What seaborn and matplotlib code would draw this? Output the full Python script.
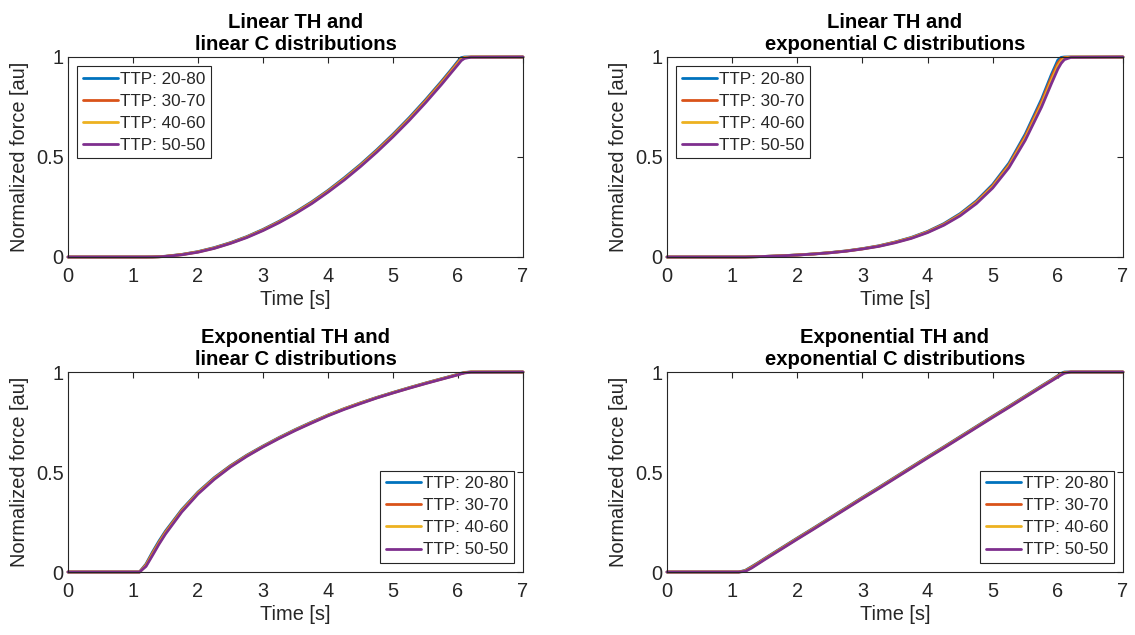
import matplotlib
matplotlib.use("Agg")
import matplotlib.pyplot as plt
import pandas as pd
import seaborn as sns

# Time samples shared by every force trace [s]
TIME = [0.0, 1.0, 1.1, 1.2, 1.3, 1.4, 1.5, 1.75, 2.0, 2.25, 2.5, 2.75, 3.0, 3.25, 3.5,
        3.75, 4.0, 4.25, 4.5, 4.75, 5.0, 5.25, 5.5, 5.75, 5.9, 6.0, 6.05, 6.1, 6.2, 7.0]

SERIES = ["TTP: 20-80", "TTP: 30-70", "TTP: 40-60", "TTP: 50-50"]
COLORS = ["#0072BD", "#D95319", "#EDB120", "#7E2F8E"]

TITLES = [
    "Linear TH and\nlinear C distributions",
    "Linear TH and\nexponential C distributions",
    "Exponential TH and\nlinear C distributions",
    "Exponential TH and\nexponential C distributions",
]
LEGEND_LOC = ["upper left", "upper left", "lower right", "lower right"]

X_TICKS = [0, 1, 2, 3, 4, 5, 6, 7]
Y_TICKS = [0, 0.5, 1]
Y_TICK_LABELS = ["0", "0.5", "1"]

# Linear TH, linear C
lin_lin_2080 = [0, 0, 0, 0, 0.0004, 0.0017, 0.0038, 0.013, 0.027, 0.047, 0.072, 0.102, 0.138, 0.179, 0.225,
                0.276, 0.333, 0.396, 0.463, 0.536, 0.614, 0.697, 0.786, 0.880, 0.939, 0.980, 0.997, 1.0, 1.0, 1.0]
lin_lin_3070 = [0, 0, 0, 0, 0.0003, 0.0014, 0.0035, 0.0123, 0.026, 0.0455, 0.0705, 0.100, 0.136, 0.1765, 0.2225,
                0.273, 0.330, 0.392, 0.459, 0.532, 0.610, 0.692, 0.781, 0.875, 0.934, 0.974, 0.992, 0.998, 1.0, 1.0]
lin_lin_4060 = [0, 0, 0, 0, 0.0003, 0.0012, 0.0031, 0.0117, 0.025, 0.044, 0.069, 0.099, 0.134, 0.174, 0.220,
                0.270, 0.327, 0.389, 0.456, 0.528, 0.605, 0.688, 0.776, 0.869, 0.928, 0.968, 0.987, 0.996, 1.0, 1.0]
lin_lin_5050 = [0, 0, 0, 0, 0.0002, 0.001, 0.0028, 0.011, 0.024, 0.043, 0.068, 0.097, 0.132, 0.172, 0.217,
                0.267, 0.324, 0.385, 0.452, 0.524, 0.601, 0.683, 0.771, 0.864, 0.923, 0.962, 0.982, 0.993, 0.999, 1.0]

# Linear TH, exponential C
lin_exp_2080 = [0, 0, 0, 0, 0.0009, 0.0018, 0.0029, 0.0061, 0.0102, 0.0155, 0.0221, 0.0306, 0.042, 0.056, 0.075,
                0.098, 0.128, 0.167, 0.217, 0.281, 0.363, 0.470, 0.615, 0.790, 0.912, 0.985, 0.998, 1.0, 1.0, 1.0]
lin_exp_3070 = [0, 0, 0, 0, 0.0009, 0.0018, 0.0029, 0.006, 0.010, 0.0152, 0.0217, 0.030, 0.041, 0.055, 0.074,
                0.096, 0.126, 0.164, 0.213, 0.276, 0.357, 0.462, 0.605, 0.777, 0.898, 0.970, 0.990, 0.998, 1.0, 1.0]
lin_exp_4060 = [0, 0, 0, 0, 0.0008, 0.0017, 0.0028, 0.0059, 0.0099, 0.015, 0.0214, 0.0296, 0.0405, 0.054, 0.0725,
                0.095, 0.124, 0.161, 0.210, 0.272, 0.351, 0.455, 0.594, 0.763, 0.882, 0.955, 0.980, 0.994, 0.999, 1.0]
lin_exp_5050 = [0, 0, 0, 0, 0.0008, 0.0017, 0.0028, 0.0058, 0.0097, 0.0147, 0.021, 0.029, 0.040, 0.053, 0.071,
                0.093, 0.122, 0.159, 0.206, 0.267, 0.345, 0.447, 0.584, 0.750, 0.866, 0.940, 0.968, 0.987, 0.998, 1.0]

# Exponential TH, linear C
exp_lin_2080 = [0, 0, 0, 0.040, 0.100, 0.155, 0.205, 0.312, 0.400, 0.472, 0.532, 0.584, 0.630, 0.673, 0.713,
                0.750, 0.785, 0.817, 0.846, 0.873, 0.898, 0.922, 0.945, 0.967, 0.980, 0.989, 0.994, 0.998, 1.0, 1.0]
exp_lin_3070 = [0, 0, 0, 0.036, 0.094, 0.149, 0.200, 0.308, 0.397, 0.469, 0.530, 0.582, 0.628, 0.671, 0.711,
                0.748, 0.784, 0.816, 0.845, 0.872, 0.897, 0.921, 0.944, 0.966, 0.979, 0.988, 0.993, 0.997, 1.0, 1.0]
exp_lin_4060 = [0, 0, 0, 0.032, 0.089, 0.144, 0.195, 0.304, 0.394, 0.466, 0.527, 0.580, 0.627, 0.670, 0.710,
                0.747, 0.783, 0.815, 0.844, 0.871, 0.896, 0.920, 0.943, 0.965, 0.978, 0.987, 0.992, 0.996, 1.0, 1.0]
exp_lin_5050 = [0, 0, 0, 0.028, 0.083, 0.139, 0.190, 0.300, 0.390, 0.463, 0.525, 0.578, 0.625, 0.668, 0.708,
                0.745, 0.781, 0.813, 0.842, 0.870, 0.895, 0.919, 0.942, 0.964, 0.977, 0.986, 0.991, 0.995, 0.999, 1.0]

# Exponential TH, exponential C
exp_exp_2080 = [0, 0, 0, 0.008, 0.027, 0.047, 0.068, 0.119, 0.170, 0.220, 0.271, 0.322, 0.373, 0.423, 0.474,
                0.525, 0.576, 0.626, 0.677, 0.728, 0.779, 0.829, 0.880, 0.931, 0.961, 0.982, 0.993, 1.0, 1.0, 1.0]
exp_exp_3070 = [0, 0, 0, 0.006, 0.025, 0.045, 0.066, 0.117, 0.168, 0.218, 0.269, 0.320, 0.371, 0.421, 0.472,
                0.523, 0.574, 0.624, 0.675, 0.726, 0.777, 0.827, 0.878, 0.929, 0.959, 0.980, 0.990, 0.998, 1.0, 1.0]
exp_exp_4060 = [0, 0, 0, 0.005, 0.022, 0.043, 0.064, 0.115, 0.166, 0.216, 0.267, 0.318, 0.369, 0.419, 0.470,
                0.521, 0.572, 0.622, 0.673, 0.724, 0.775, 0.825, 0.876, 0.927, 0.957, 0.977, 0.988, 0.996, 1.0, 1.0]
exp_exp_5050 = [0, 0, 0, 0.003, 0.020, 0.041, 0.062, 0.113, 0.164, 0.214, 0.265, 0.316, 0.367, 0.417, 0.468,
                0.519, 0.570, 0.620, 0.671, 0.722, 0.773, 0.823, 0.874, 0.925, 0.955, 0.975, 0.985, 0.994, 1.0, 1.0]

PANELS = [
    [lin_lin_2080, lin_lin_3070, lin_lin_4060, lin_lin_5050],
    [lin_exp_2080, lin_exp_3070, lin_exp_4060, lin_exp_5050],
    [exp_lin_2080, exp_lin_3070, exp_lin_4060, exp_lin_5050],
    [exp_exp_2080, exp_exp_3070, exp_exp_4060, exp_exp_5050],
]

sns.set_theme(style="white")
plt.rcParams["font.family"] = ["Liberation Sans", "DejaVu Sans"]
INK = "#262626"
plt.rcParams.update({
    "axes.edgecolor": INK,
    "axes.linewidth": 0.8,
    "xtick.color": INK,
    "ytick.color": INK,
    "axes.labelcolor": INK,
})

DPI = 100
fig = plt.figure(figsize=(11.35, 6.35), dpi=DPI)
fig.patch.set_facecolor("white")

W, H = 1135.0, 635.0
# axes boxes in pixels: left, top, right, bottom
BOXES = [(68, 57, 523, 257), (667, 57, 1123, 257),
         (68, 372, 523, 572), (667, 372, 1123, 572)]

for i, (box, series_vals) in enumerate(zip(BOXES, PANELS)):
    l, t, r, b = box
    ax = fig.add_axes([l / W, 1 - b / H, (r - l) / W, (b - t) / H])
    rows = []
    for name, vals in zip(SERIES, series_vals):
        for x, y in zip(TIME, vals):
            rows.append({"time": x, "force": y, "series": name})
    df = pd.DataFrame(rows)
    sns.lineplot(data=df, x="time", y="force", hue="series", hue_order=SERIES,
                 palette=COLORS, estimator=None, sort=False, linewidth=2.0,
                 ax=ax, legend=True)
    for ln in ax.get_lines():
        ln.set_clip_on(False)
        ln.set_solid_joinstyle("round")

    ax.set_xlim(0, 7)
    ax.set_ylim(0, 1)
    ax.set_xticks(X_TICKS)
    ax.set_xticklabels([str(v) for v in X_TICKS])
    ax.set_yticks(Y_TICKS)
    ax.set_yticklabels(Y_TICK_LABELS)
    ax.tick_params(direction="in", top=True, right=True, length=4, width=0.8,
                   labelsize=14.4, colors=INK)
    ax.tick_params(axis="x", pad=7)
    ax.tick_params(axis="y", pad=3)
    for s in ax.spines.values():
        s.set_visible(True)
        s.set_color(INK)
        s.set_linewidth(0.8)
    ax.set_xlabel("Time [s]", fontsize=14.4, labelpad=3)
    ax.set_ylabel("Normalized force [au]", fontsize=14.4, labelpad=5)
    ax.set_title(TITLES[i], fontsize=14.6, fontweight="bold", color="black",
                 pad=5, linespacing=1.2)

    old = ax.get_legend()
    handles = old.legend_handles
    labels = [txt.get_text() for txt in old.get_texts()]
    for h, c in zip(handles, COLORS):
        h.set_linewidth(2.0)
        h.set_color(c)
    leg = ax.legend(handles, labels, loc=LEGEND_LOC[i], fontsize=12.3,
                    frameon=True, fancybox=False, framealpha=1.0,
                    edgecolor=INK, handlelength=2.05, handletextpad=0.15,
                    labelspacing=0.42, borderpad=0.3, borderaxespad=0.55)
    leg.get_frame().set_linewidth(0.8)

fig.savefig("out.png", dpi=DPI, facecolor="white")
